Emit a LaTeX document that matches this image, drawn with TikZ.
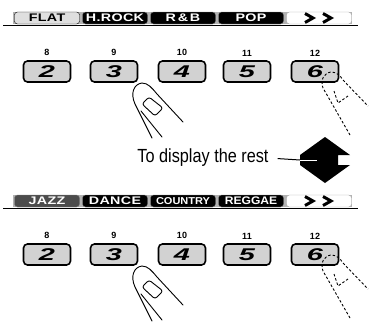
\documentclass[tikz,border=0pt]{standalone}
\usepackage{fontspec}
\setmainfont{Liberation Sans}
\newfontfamily\tabfont[FakeStretch=1.3, LetterSpace=3]{Liberation Sans}
\newfontfamily\slimtabfont[FakeStretch=1.1]{Liberation Sans}
\newfontfamily\keyfont[FakeStretch=1.7]{Liberation Sans}
\usetikzlibrary{positioning}

\begin{document}
\begin{tikzpicture}[x=1pt, y=-1pt,
        tab/.style={draw=gray, fill=black, text=white, rounded corners=3pt,
                    minimum width=65pt, minimum height=12pt, inner sep=0pt,
                    font=\tabfont\bfseries\fontsize{11}{11}\selectfont},
        slimtab/.style={tab, font=\slimtabfont\bfseries\fontsize{10}{10}\selectfont},
        seltab/.style={tab, fill=gray!25, draw=black, text=black},
        moretab/.style={tab, fill=white, draw=gray!70},
        key/.style={draw, line width=1.6pt, rounded corners=4pt, fill=gray!35,
                    minimum width=47pt, minimum height=21pt, inner sep=0pt,
                    font=\keyfont\bfseries\itshape\fontsize{17}{17}\selectfont},
        num/.style={inner sep=0pt, font=\bfseries\fontsize{9}{9}\selectfont},
        finger/.style={line width=0.9pt, line join=round, line cap=round},
        ghost/.style={finger, line cap=butt, dash pattern=on 2.5pt off 2pt}
    ]
    \useasboundingbox (0,0) rectangle (370,322);

    % first tab bar
    \fill[gray!60] (13,12) rectangle (352,24);
    \node[seltab] (flat) at (47,18) {FLAT};
    \node[tab] (hrock) at (115,18) {H.ROCK};
    \node[tab] (rnb) at (183,18) {R\,\&\,B};
    \node[tab] (pop) at (251,18) {POP};
    \node[moretab] (more1) at (319,18) {};
    \draw[line width=1.5pt] (3,25.5) -- (358,25.5);

    % second tab bar
    \fill[gray!60] (13,195) rectangle (352,207);
    \node[tab, fill=gray!60!black] (jazz) at (47,201) {JAZZ};
    \node[tab] (dance) at (115,201) {DANCE};
    \node[slimtab] (country) at (183,201) {COUNTRY};
    \node[slimtab, font=\slimtabfont\bfseries\fontsize{11}{11}\selectfont] (reggae) at (251,201) {REGGAE};
    \node[moretab] (more2) at (319,201) {};
    \draw[line width=1.5pt] (3,208.5) -- (358,208.5);

    % chevrons on the "more" tabs
    \foreach \m in {more1, more2}
        \foreach \dx in {-9, 9}
            \draw[line width=3pt] ([xshift=\dx pt-5pt, yshift=4.5pt]\m.center)
                -- ([xshift=\dx pt+3pt]\m.center) -- ([xshift=\dx pt-5pt, yshift=-4.5pt]\m.center);

    % preset keys with fingers, once per bar
    \foreach \r/\dy in {1/0, 2/183} {
        \begin{scope}[yshift=-\dy pt]
            \foreach \n/\x/\f [count=\i] in {8/47/2, 9/114/3, 10/182/4, 11/247/5, 12/315/6} {
                \node[key] (key\r\i) at (\x,71.5) {\f};
                \node[num, above=4pt of key\r\i] (num\r\i) {\n};
            }
            % pressing finger
            \draw[finger] (152,138) -- (135,104) .. controls (130,93) and (134,84) .. (142,83)
                .. controls (148,83) and (152,88) .. (157,94) -- (183,122);
            \draw[finger] (141,111) -- (162,137);
            \draw[finger, rounded corners=2.5pt] (142,104) -- (149,97) -- (163,108) -- (155,116) -- cycle;
            % holding finger
            \draw[ghost] (350,135) -- (323,88) .. controls (320,80) and (324,73) .. (331,72)
                .. controls (336,72) and (340,75) .. (343,80) -- (368,106);
            \draw[ghost] (334,91) -- (338,103) -- (348,96);
        \end{scope}
    }

    % note and up/down arrow
    \node[inner sep=0pt, font=\fontsize{19}{19}\selectfont] (rest) at (203,158)
        {\resizebox{131pt}{\height}{To display the rest}};
    \fill (325,137) -- (350,155) -- (338,155) -- (338,165) -- (350,165) -- (325,183)
        -- (300,165) -- (300,155) -- cycle;
    \coordinate (flip) at (300,160);
    \coordinate (flipin) at (317,160);
    \draw[line width=1pt, shorten <=9pt] (rest.east) -- (flip);
    \draw[white, line width=1pt] (flip) -- (flipin);
\end{tikzpicture}
\end{document}
